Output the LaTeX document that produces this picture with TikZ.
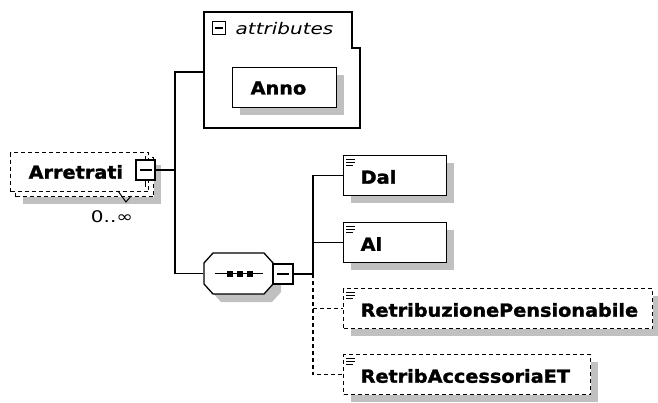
\documentclass[tikz,border=0pt]{standalone}
\usepackage{fontspec}
\newfontfamily\schemafont[FakeStretch=1.07, FakeBold=1.6]{DejaVu Sans Bold}
\newfontfamily\attrfont[FakeStretch=1.25]{DejaVu Sans}
\usetikzlibrary{positioning, calc}
\definecolor{shadowgray}{RGB}{192,192,192}

\begin{document}
\begin{tikzpicture}[x=1pt, y=-1pt, line width=1.3pt,
    elbox/.style={draw, fill=white, minimum height=40, inner sep=0, anchor=north west},
    optbox/.style={elbox, dash pattern=on 4pt off 3pt},
    optline/.style={dash pattern=on 4pt off 3pt},
    symbox/.style={draw, fill=white, inner sep=0},
    eltext/.style={font=\schemafont\fontsize{18}{20}\selectfont, anchor=west, inner sep=0},
    smalltext/.style={font=\attrfont\fontsize{16}{18}\selectfont, inner sep=0}]
    \useasboundingbox (0,0) rectangle (658,403);
    % root element (several occurrences: two stacked boxes)
    \fill[shadowgray] (23,165) rectangle (161,204);
    \node[optbox, minimum width=138, minimum height=39] (arr-back) at (15,157) {};
    \node[optbox, minimum width=138, minimum height=39] (arr) at (10,152) {};
    \node[eltext] (arr-t) at (28,172) {Arretrati};
    \node[symbox, minimum width=19, minimum height=20] (arr-sym) at (145.5,170) {};
    \draw ($(arr-sym.center)+(-6,0)$) -- ++(12,0);
    \draw (arr-sym.north) -- ++(0,-3);
    \draw (arr-sym.south) -- ++(0,6);
    \draw[line width=1pt] (118,191) -- (126,202) -- (131,196);
    \node[smalltext] (arr-card) at (112,217) {0..∞};
    % attributes container
    \draw[fill=white] (204,12) -- (352,12) -- (352,48) -- (360,48) -- (360,128) -- (204,128) -- cycle;
    \coordinate (attr-w) at (204,72);
    \node[symbox, minimum size=13] (attr-sym) at (219,28) {};
    \draw ($(attr-sym.center)+(-4,0)$) -- ++(8,0);
    \node[smalltext, anchor=west, font=\attrfont\itshape\fontsize{16}{18}\selectfont] (attr-t) at (235,29) {attributes};
    \fill[shadowgray] (240,75) rectangle (344,115);
    \node[elbox, minimum width=104] (anno) at (232,67) {};
    \node[eltext] (anno-t) at (250,88) {Anno};
    % sequence compositor
    \fill[shadowgray, shift={(8,8)}] (204,263) -- (213,253) -- (264,253) -- (273,263)
        -- (273,284) -- (264,294) -- (213,294) -- (204,284) -- cycle;
    \draw[fill=white] (204,263) -- (213,253) -- (264,253) -- (273,263)
        -- (273,284) -- (264,294) -- (213,294) -- (204,284) -- cycle;
    \node[inner sep=0, minimum width=69, minimum height=41] (seq) at (238.5,273.5) {};
    \draw (215,273.5) -- (263,273.5);
    \foreach \x in {230,240,250}{
        \fill (\x-3,270.5) rectangle (\x+3,276.5);
    }
    \node[symbox, minimum size=20] (seq-sym) at (283,274) {};
    \draw ($(seq-sym.center)+(-6,0)$) -- ++(12,0);
    % connectors from the root
    \coordinate (trunk-top) at (175,72);
    \coordinate (trunk-mid) at (175,170);
    \coordinate (trunk-bot) at (175,273.5);
    \draw (arr-sym.east) -- (trunk-mid);
    \draw (attr-w) -- (trunk-top) -- (trunk-bot) -- (seq.west);
    % child elements: name / top / width / label / style
    \foreach \nm/\y/\w/\lab/\sty in {%
        dal/155/103/Dal/elbox, al/222/103/Al/elbox,
        retpens/288/309/RetribuzionePensionabile/optbox,
        retacc/354/247/RetribAccessoriaET/optbox%
    }{
        \fill[shadowgray] (351,\y+8) rectangle (343+\w+8,\y+48);
        \node[\sty, minimum width=\w] (\nm) at (343,\y) {};
        \draw[line width=1.5pt] (346,\y+4.5) -- ++(9,0);
        \draw[line width=1.5pt] (346,\y+7.5) -- ++(9,0);
        \draw[line width=1.5pt] (346,\y+10.5) -- ++(7,0);
        \node[eltext] (\nm-t) at (360,\y+22) {\lab};
    }
    % connectors from the sequence
    \coordinate (ch-mid) at (313,274);
    \draw (seq-sym.east) -- (ch-mid);
    \draw (dal.west) -- (dal.west -| ch-mid) -- (ch-mid);
    \draw (al.west) -- (al.west -| ch-mid);
    \draw[optline] (ch-mid) -- (retacc.west -| ch-mid) -- (retacc.west);
    \draw[optline] (retpens.west -| ch-mid) -- (retpens.west);
\end{tikzpicture}
\end{document}
